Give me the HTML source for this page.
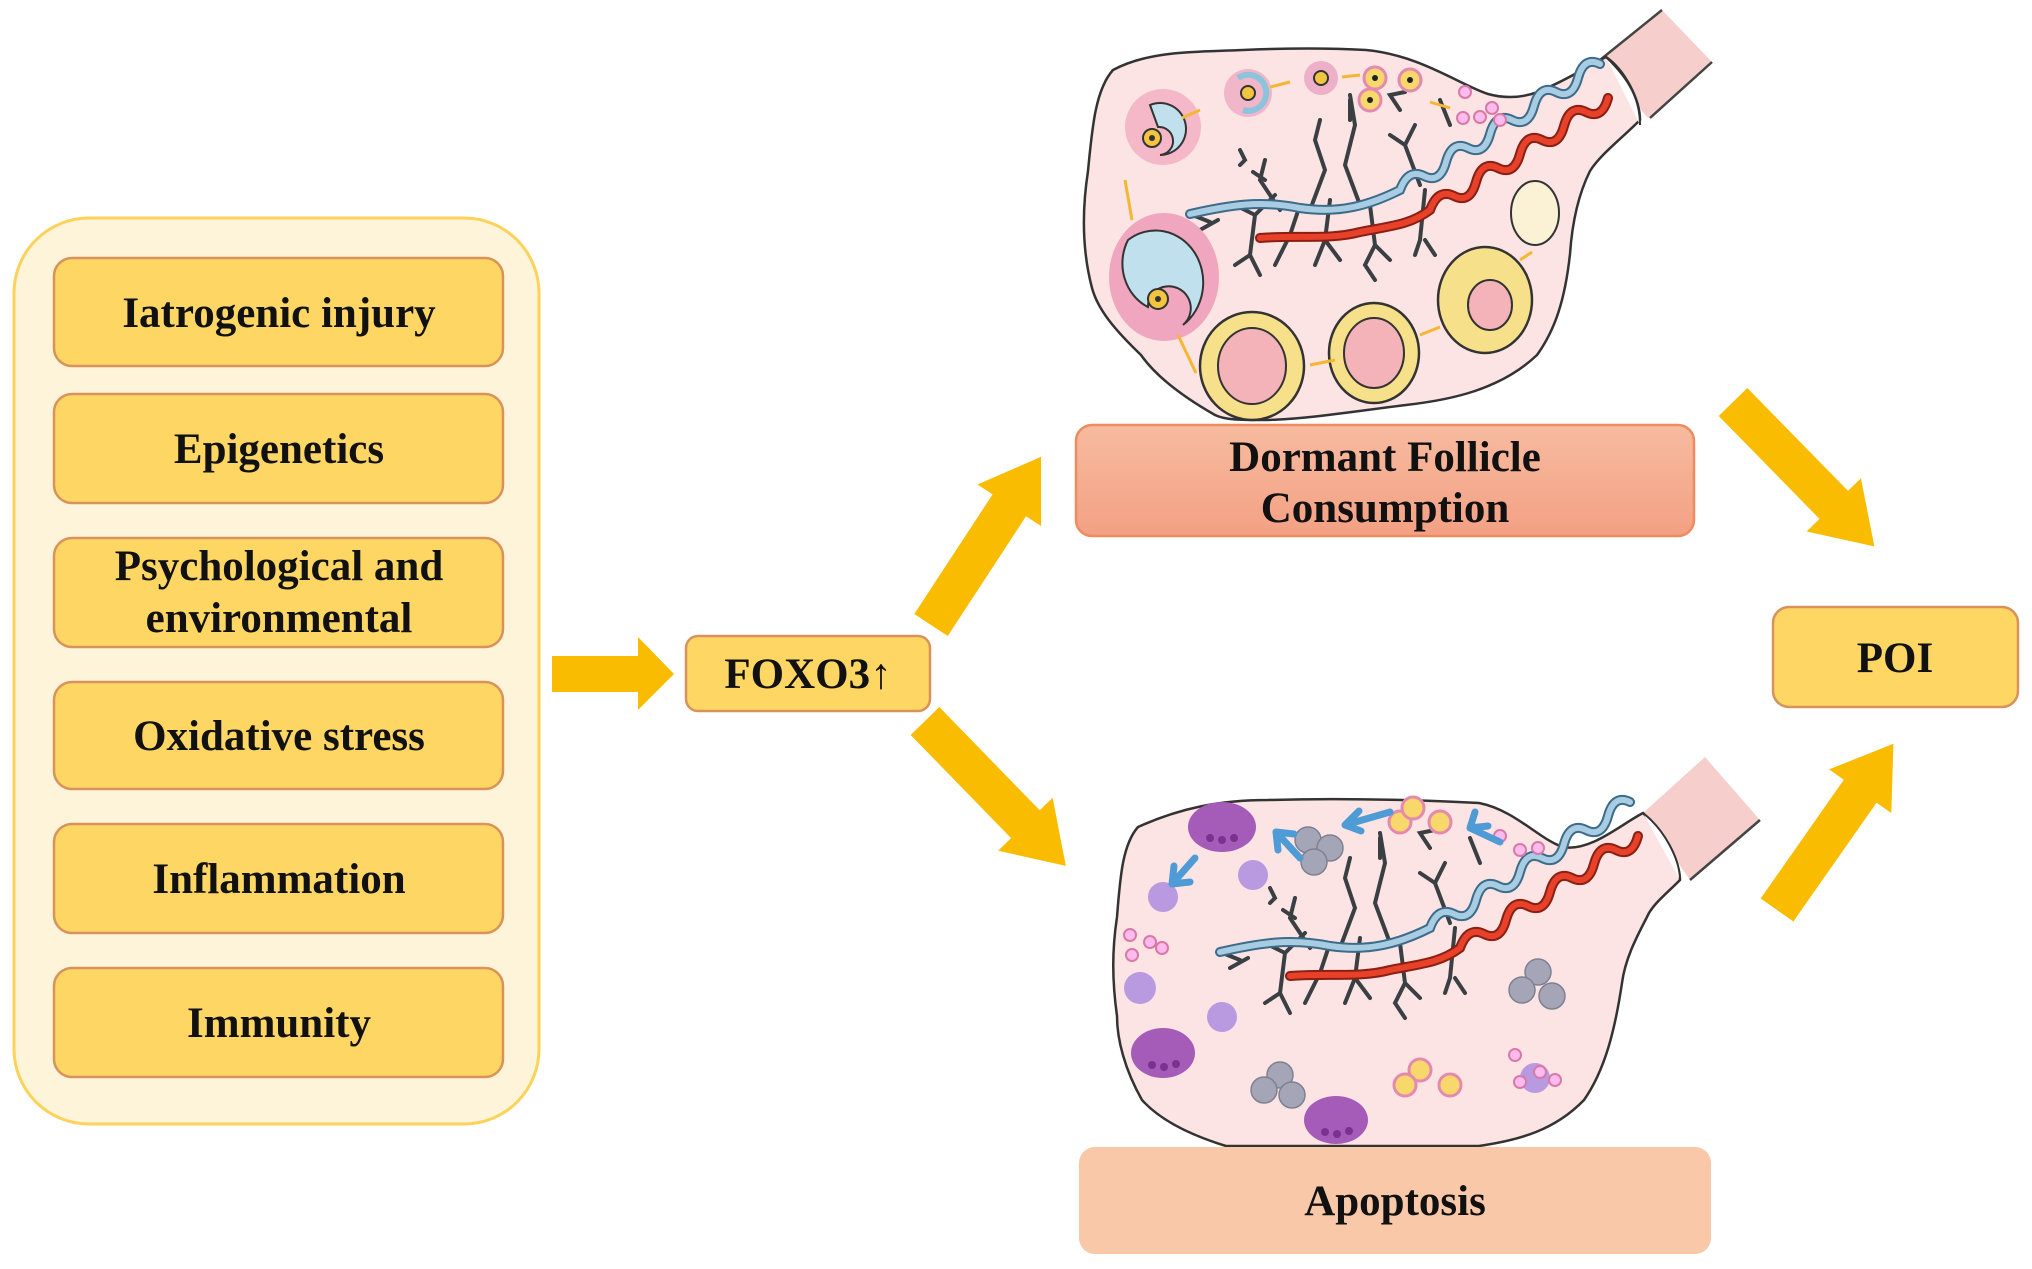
<!DOCTYPE html>
<html><head><meta charset="utf-8"><style>
html,body{margin:0;padding:0;background:#fff;}
svg{display:block;}
text{font-family:"Liberation Serif",serif;font-weight:bold;fill:#111;}
</style></head><body>
<svg width="2032" height="1269" viewBox="0 0 2032 1269" xmlns="http://www.w3.org/2000/svg">
<defs>
<linearGradient id="dg" x1="0" y1="0" x2="0" y2="1"><stop offset="0" stop-color="#F7BBA0"/><stop offset="1" stop-color="#F3A083"/></linearGradient>
<g id="veins" fill="none" stroke-linecap="round">
  <g stroke="#3a3f44" stroke-width="4">
    <path d="M1190,214 l20,8 M1200,230 l18,-10 M1235,205 l20,10 l20,-20 M1255,215 l-5,40 l10,20 M1250,255 l-15,10 M1280,210 l-20,-30 l5,-20 M1265,180 l-12,-8 M1300,205 l-10,30 l-15,30 M1310,210 l15,-40 l-10,-30 l5,-20 M1330,200 l-5,40 l-10,25 M1325,240 l15,20 M1360,205 l-15,-40 l10,-40 l-5,-30 M1370,205 l5,40 l-10,20 l10,15 M1375,245 l15,15 M1420,185 l-15,-40 l-15,-10 M1405,145 l10,-20 M1425,190 l-5,50 l-5,15 M1425,240 l10,15 M1350,120 l0,-20 M1400,110 l-10,-15 l15,-3 M1440,100 l10,25 M1240,150 l5,10 l-5,5"/>
  </g>
  <path d="M1190,214 C1230,205 1260,200 1300,208 C1340,214 1370,205 1400,190 q8,-22 24,-14 t22,-14 t22,-14 t22,-14 t22,-14 t22,-14 t22,-14 t22,-14 t22,-14" stroke="#3d6c8a" stroke-width="10"/>
  <path d="M1190,214 C1230,205 1260,200 1300,208 C1340,214 1370,205 1400,190 q8,-22 24,-14 t22,-14 t22,-14 t22,-14 t22,-14 t22,-14 t22,-14 t22,-14 t22,-14" stroke="#a8cde3" stroke-width="6"/>
  <path d="M1260,238 C1300,235 1330,240 1360,232 C1390,226 1410,225 1430,210 q8,-22 24,-14 t22,-14 t22,-14 t22,-14 t22,-14 t22,-14 t22,-14 t22,-14" stroke="#8a1f14" stroke-width="10"/>
  <path d="M1260,238 C1300,235 1330,240 1360,232 C1390,226 1410,225 1430,210 q8,-22 24,-14 t22,-14 t22,-14 t22,-14 t22,-14 t22,-14 t22,-14 t22,-14" stroke="#e8412a" stroke-width="6"/>
</g>
</defs>

<rect x="14" y="218" width="525" height="906" rx="75" fill="#FEF4DA" stroke="#FCD25A" stroke-width="3"/>
<g fill="#FDD663" stroke="#D9925A" stroke-width="2.5">
<rect x="54" y="258" width="449" height="108" rx="18"/>
<rect x="54" y="394" width="449" height="109" rx="18"/>
<rect x="54" y="538" width="449" height="109" rx="18"/>
<rect x="54" y="682" width="449" height="107" rx="18"/>
<rect x="54" y="824" width="449" height="109" rx="18"/>
<rect x="54" y="968" width="449" height="109" rx="18"/>
<rect x="686" y="636" width="244" height="75" rx="12"/>
<rect x="1773" y="607" width="245" height="100" rx="16"/>
</g>
<g font-size="43" text-anchor="middle">
<text x="279" y="327">Iatrogenic injury</text>
<text x="279" y="463">Epigenetics</text>
<text x="279" y="580">Psychological and</text>
<text x="279" y="632">environmental</text>
<text x="279" y="750">Oxidative stress</text>
<text x="279" y="893">Inflammation</text>
<text x="279" y="1037">Immunity</text>
<text x="808" y="688">FOXO3↑</text>
<text x="1895" y="672">POI</text>
</g>

<g fill="#F9BC00">
<polygon points="552,656 638,656 638,637 674,674 638,710 638,692 552,692"/>
<polygon transform="translate(931,625) rotate(-56.8)" points="0,-20 143,-20 143,-38 201,0 143,38 143,20 0,20"/>
<polygon transform="translate(925,721) rotate(45.8)" points="0,-20 144,-20 144,-38 202,0 144,38 144,20 0,20"/>
<polygon transform="translate(1733,402) rotate(45.6)" points="0,-20 144,-20 144,-38 202,0 144,38 144,20 0,20"/>
<polygon transform="translate(1777,910) rotate(-55)" points="0,-20 145,-20 145,-38 203,0 145,38 145,20 0,20"/>
</g>

<g>
<path d="M1600,62 L1662,10 L1712,62 L1648,118 Z" fill="#F6CFCC"/>
<path d="M1662,10 L1600,60 M1712,62 L1650,118" stroke="#444" stroke-width="2.5" fill="none"/>
<path d="M1113,70 C1150,50 1200,52 1243,50 C1290,48 1330,48 1366,50 C1420,55 1460,85 1488,94 C1510,100 1530,97 1549,87 C1570,78 1590,65 1606,57 C1625,70 1640,100 1640,120 C1620,140 1600,155 1590,171 C1578,195 1572,225 1570,254 C1565,300 1555,330 1537,355 C1500,390 1450,400 1406,405 C1350,412 1300,420 1264,420 C1240,420 1225,420 1215,415 C1180,395 1155,375 1141,355 C1115,330 1098,310 1092,288 C1082,250 1082,210 1088,171 C1092,130 1095,90 1113,70 Z" fill="#FBE4E3" stroke="#333" stroke-width="2.5"/>
<path d="M1606,57 C1630,80 1640,100 1640,125" stroke="#333" stroke-width="2" fill="#fff"/>
<use href="#veins"/>
<circle cx="1163" cy="127" r="38" fill="#F5B8C8"/>
<path d="M1150,105 a26,26 0 1 1 10,50 a14,14 0 0 0 -2,-28 z" fill="#BFE0EC" stroke="#333" stroke-width="2"/>
<circle cx="1152" cy="138" r="9" fill="#F2C540" stroke="#333" stroke-width="2"/><circle cx="1152" cy="138" r="3" fill="#333"/>
<ellipse cx="1164" cy="277" rx="55" ry="64" fill="#EFA6BE"/>
<path d="M1128,240 a44,48 0 1 1 55,85 a22,22 0 0 0 -20,-38 a20,20 0 0 0 -15,20 a44,48 0 0 1 -20,-67 z" fill="#BFE0EC" stroke="#333" stroke-width="2"/>
<circle cx="1158" cy="299" r="10" fill="#F2C540" stroke="#333" stroke-width="2"/><circle cx="1158" cy="299" r="3" fill="#333"/>
<circle cx="1248" cy="93" r="24" fill="#F1B6CA"/><path d="M1238,78 a18,18 0 1 1 5,32" fill="none" stroke="#8cc4dc" stroke-width="6"/><circle cx="1248" cy="93" r="7" fill="#F2C540" stroke="#333" stroke-width="2"/>
<circle cx="1321" cy="78" r="17" fill="#EDB0C8"/><circle cx="1321" cy="78" r="7" fill="#F2C540" stroke="#333" stroke-width="2"/>
<g fill="#F8D86A" stroke="#E48AB0" stroke-width="3"><circle cx="1375" cy="78" r="11"/><circle cx="1410" cy="80" r="11"/><circle cx="1370" cy="100" r="11"/></g>
<g fill="#222"><circle cx="1375" cy="78" r="3"/><circle cx="1410" cy="80" r="3"/><circle cx="1370" cy="100" r="3"/></g>
<g fill="#fbe" stroke="#D87AA8" stroke-width="2"><circle cx="1465" cy="92" r="6"/><circle cx="1492" cy="108" r="6"/><circle cx="1480" cy="117" r="6"/><circle cx="1463" cy="118" r="6"/><circle cx="1500" cy="120" r="6"/></g>
<ellipse cx="1252" cy="366" rx="52" ry="54" fill="#F7E08A" stroke="#333" stroke-width="2.5"/><ellipse cx="1252" cy="366" rx="34" ry="38" fill="#F3B3B8" stroke="#333" stroke-width="2"/>
<ellipse cx="1374" cy="353" rx="45" ry="50" fill="#F7E08A" stroke="#333" stroke-width="2.5"/><ellipse cx="1374" cy="353" rx="30" ry="35" fill="#F3B3B8" stroke="#333" stroke-width="2"/>
<ellipse cx="1485" cy="300" rx="47" ry="53" fill="#F7E08A" stroke="#333" stroke-width="2.5"/><ellipse cx="1490" cy="305" rx="22" ry="25" fill="#F3B3B8" stroke="#333" stroke-width="2"/>
<ellipse cx="1535" cy="213" rx="24" ry="32" fill="#FBF2D6" stroke="#333" stroke-width="2"/>
<g stroke="#F5B730" stroke-width="3" fill="none">
<path d="M1290,82 l-20,5 M1360,75 l-18,2 M1450,108 l-20,-6 M1200,110 l-18,8 M1125,180 l7,40 M1178,335 l18,38 M1310,365 l25,-5 M1420,335 l20,-8 M1520,260 l12,-8"/>
</g>
</g>

<g>
<path d="M1643,813 L1705,757 L1760,820 L1690,880 Z" fill="#F6CFCC"/>
<path d="M1760,820 L1690,880" stroke="#444" stroke-width="2.5"/>
<path d="M1138,827 C1180,808 1220,800 1268,800 C1340,798 1420,800 1479,803 C1515,810 1540,840 1563,847 C1590,852 1620,825 1643,813 C1660,830 1680,860 1680,880 C1665,895 1652,905 1647,917 C1635,940 1625,960 1622,983 C1615,1030 1605,1070 1584,1100 C1555,1130 1520,1140 1479,1146 L1226,1146 C1190,1135 1160,1120 1142,1100 C1125,1070 1117,1040 1117,1016 C1112,980 1112,950 1117,917 C1120,880 1122,845 1138,827 Z" fill="#FBE4E3" stroke="#333" stroke-width="2.5"/>
<path d="M1643,813 C1665,830 1680,860 1680,880" stroke="#333" stroke-width="2" fill="#fff"/>
<use href="#veins" transform="translate(30,738)"/>
<g fill="#A55BB8"><ellipse cx="1222" cy="827" rx="34" ry="25"/><ellipse cx="1163" cy="1053" rx="32" ry="25"/><ellipse cx="1336" cy="1120" rx="32" ry="24"/></g>
<g fill="#7C3190"><circle cx="1210" cy="838" r="4"/><circle cx="1222" cy="840" r="4"/><circle cx="1234" cy="838" r="4"/><circle cx="1152" cy="1065" r="4"/><circle cx="1164" cy="1067" r="4"/><circle cx="1176" cy="1064" r="4"/><circle cx="1325" cy="1132" r="4"/><circle cx="1337" cy="1134" r="4"/><circle cx="1349" cy="1131" r="4"/></g>
<g fill="#A4A6B8" stroke="#7f8090" stroke-width="1.5">
<circle cx="1308" cy="840" r="13"/><circle cx="1330" cy="848" r="13"/><circle cx="1314" cy="862" r="13"/>
<circle cx="1280" cy="1075" r="13"/><circle cx="1264" cy="1090" r="13"/><circle cx="1292" cy="1095" r="13"/>
<circle cx="1538" cy="972" r="13"/><circle cx="1522" cy="990" r="13"/><circle cx="1552" cy="996" r="13"/>
</g>
<g fill="#B99AE0"><circle cx="1253" cy="875" r="15"/><circle cx="1163" cy="897" r="15"/><circle cx="1140" cy="988" r="16"/><circle cx="1222" cy="1017" r="15"/><circle cx="1535" cy="1078" r="15"/></g>
<g fill="#F8D86A" stroke="#E48AB0" stroke-width="3"><circle cx="1400" cy="822" r="11"/><circle cx="1413" cy="808" r="11"/><circle cx="1440" cy="822" r="11"/><circle cx="1420" cy="1070" r="11"/><circle cx="1405" cy="1085" r="11"/><circle cx="1450" cy="1085" r="11"/></g>
<g fill="#fbe" stroke="#D87AA8" stroke-width="2"><circle cx="1500" cy="836" r="6"/><circle cx="1520" cy="850" r="6"/><circle cx="1538" cy="848" r="6"/><circle cx="1130" cy="935" r="6"/><circle cx="1150" cy="942" r="6"/><circle cx="1162" cy="948" r="6"/><circle cx="1132" cy="955" r="6"/><circle cx="1515" cy="1055" r="6"/><circle cx="1540" cy="1072" r="6"/><circle cx="1555" cy="1080" r="6"/><circle cx="1520" cy="1082" r="6"/></g>
<g stroke="#4E9BD6" stroke-width="7" fill="none" stroke-linecap="round">
<path d="M1390,812 L1345,825 M1345,825 l14,-14 M1345,825 l16,6"/>
<path d="M1500,842 L1470,828 M1470,828 l5,-16 M1470,828 l18,-2"/>
<path d="M1300,858 L1276,832 M1276,832 l2,18 M1276,832 l18,2"/>
<path d="M1195,858 L1172,884 M1172,884 l2,-18 M1172,884 l18,-2"/>
</g>
</g>

<rect x="1076" y="425" width="618" height="111" rx="16" fill="url(#dg)" stroke="#EE8C5F" stroke-width="2.5"/>
<g font-size="43" text-anchor="middle">
<text x="1385" y="471">Dormant Follicle</text>
<text x="1385" y="522">Consumption</text>
</g>
<rect x="1079" y="1147" width="632" height="107" rx="16" fill="#F8C8A8"/>
<text x="1395" y="1215" font-size="43" text-anchor="middle">Apoptosis</text>
</svg>
</body></html>
